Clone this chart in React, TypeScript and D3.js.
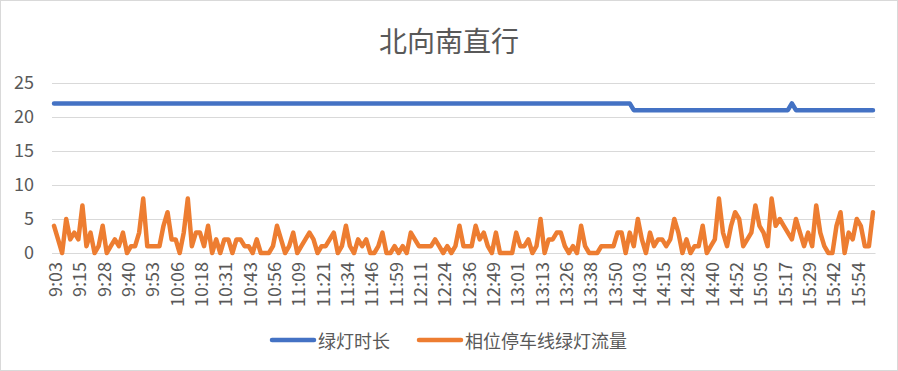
import { useEffect, useRef } from "react";
import * as d3 from "d3";

const title = "北向南直行";
const seriesNames = ["绿灯时长", "相位停车线绿灯流量"];
const seriesColors = ["#4472C4", "#ED7D31"];

const tickLabels = [
  "9:03", "9:15", "9:28", "9:40", "9:53", "10:06", "10:18", "10:31", "10:43",
  "10:56", "11:09", "11:21", "11:34", "11:46", "11:59", "12:11", "12:24",
  "12:36", "12:49", "13:01", "13:13", "13:26", "13:38", "13:50", "14:03",
  "14:15", "14:28", "14:40", "14:52", "15:05", "15:17", "15:29", "15:42",
  "15:54",
];
const labelEvery = 6;

const yTicks = [0, 5, 10, 15, 20, 25];

// 绿灯时长
const greenTime = [
  22, 22, 22, 22, 22, 22, 22, 22, 22, 22, 22, 22, 22, 22, 22, 22, 22, 22, 22, 22,
  22, 22, 22, 22, 22, 22, 22, 22, 22, 22, 22, 22, 22, 22, 22, 22, 22, 22, 22, 22,
  22, 22, 22, 22, 22, 22, 22, 22, 22, 22, 22, 22, 22, 22, 22, 22, 22, 22, 22, 22,
  22, 22, 22, 22, 22, 22, 22, 22, 22, 22, 22, 22, 22, 22, 22, 22, 22, 22, 22, 22,
  22, 22, 22, 22, 22, 22, 22, 22, 22, 22, 22, 22, 22, 22, 22, 22, 22, 22, 22, 22,
  22, 22, 22, 22, 22, 22, 22, 22, 22, 22, 22, 22, 22, 22, 22, 22, 22, 22, 22, 22,
  22, 22, 22, 22, 22, 22, 22, 22, 22, 22, 22, 22, 22, 22, 22, 22, 22, 22, 22, 22,
  22, 22, 22, 21, 21, 21, 21, 21, 21, 21, 21, 21, 21, 21, 21, 21, 21, 21, 21, 21,
  21, 21, 21, 21, 21, 21, 21, 21, 21, 21, 21, 21, 21, 21, 21, 21, 21, 21, 21, 21,
  21, 21, 22, 21, 21, 21, 21, 21, 21, 21, 21, 21, 21, 21, 21, 21, 21, 21, 21, 21,
  21, 21, 21,
];

// 相位停车线绿灯流量
const greenFlow = [
  4, 2, 0, 5, 2, 3, 2, 7, 1, 3,
  0, 1, 4, 0, 1, 2, 1, 3, 0, 1,
  1, 3, 8, 1, 1, 1, 1, 4, 6, 2,
  2, 0, 3, 8, 1, 3, 3, 1, 4, 0,
  2, 0, 2, 2, 0, 2, 2, 1, 1, 0,
  2, 0, 0, 0, 1, 4, 2, 0, 1, 3,
  0, 1, 2, 3, 2, 0, 1, 1, 2, 3,
  0, 1, 4, 1, 0, 2, 1, 2, 0, 0,
  1, 3, 0, 0, 1, 0, 1, 0, 3, 2,
  1, 1, 1, 1, 2, 1, 0, 1, 0, 1,
  4, 1, 1, 1, 4, 2, 3, 1, 0, 3,
  0, 0, 0, 0, 3, 1, 1, 2, 0, 1,
  5, 0, 2, 2, 3, 3, 1, 0, 1, 0,
  4, 1, 0, 0, 0, 1, 1, 1, 1, 3,
  3, 0, 3, 1, 5, 2, 0, 3, 1, 2,
  2, 1, 2, 5, 3, 0, 2, 0, 1, 1,
  4, 0, 1, 2, 8, 3, 1, 4, 6, 5,
  1, 2, 3, 7, 4, 3, 1, 8, 4, 5,
  4, 3, 2, 5, 3, 1, 3, 1, 7, 3,
  1, 0, 0, 4, 6, 0, 3, 2, 5, 4,
  1, 1, 6,
];

const W = 898;
const H = 371;
const font = "'Noto Sans CJK SC', 'Noto Sans', sans-serif";
const textColor = "#595959";
const gridColor = "#d9d9d9";

export default function App() {
  const ref = useRef<SVGSVGElement>(null);

  useEffect(() => {
    const svg = d3.select(ref.current!);
    svg.selectAll("*").remove();

    const plot = { left: 52, right: 875, top: 83, bottom: 253 };
    const idx = d3.range(greenFlow.length);

    const x = d3
      .scaleBand<number>()
      .domain(idx)
      .range([plot.left, plot.right])
      .padding(0);
    const cx = (i: number) => x(i)! + x.bandwidth() / 2;
    const y = d3.scaleLinear().domain([0, 25]).range([plot.bottom, plot.top]);

    // frame
    svg
      .append("rect")
      .attr("x", 0.5)
      .attr("y", 0.5)
      .attr("width", W - 1)
      .attr("height", H - 1)
      .attr("fill", "#fff")
      .attr("stroke", gridColor);

    // title
    svg
      .append("text")
      .attr("x", W / 2)
      .attr("y", 40)
      .attr("text-anchor", "middle")
      .attr("dominant-baseline", "central")
      .attr("font-family", font)
      .attr("font-size", 28)
      .attr("fill", textColor)
      .text(title);

    // grid + y axis
    svg
      .append("g")
      .attr("transform", `translate(${plot.left},0)`)
      .call(
        d3
          .axisLeft(y)
          .tickValues(yTicks)
          .tickSize(-(plot.right - plot.left))
          .tickPadding(18)
      )
      .call((g) => g.select(".domain").remove())
      .call((g) => g.selectAll(".tick line").attr("stroke", gridColor).attr("stroke-width", 1))
      .call((g) =>
        g
          .selectAll(".tick text")
          .attr("font-family", font)
          .attr("font-size", 18)
          .attr("fill", textColor)
      );

    // x axis
    const tickIdx = tickLabels.map((_, k) => k * labelEvery);
    svg
      .append("g")
      .attr("transform", `translate(0,${plot.bottom})`)
      .call(
        d3
          .axisBottom(x)
          .tickValues(tickIdx)
          .tickSize(0)
          .tickFormat((d) => tickLabels[(d as number) / labelEvery])
      )
      .call((g) => g.select(".domain").attr("stroke", gridColor))
      .call((g) =>
        g
          .selectAll(".tick text")
          .attr("font-family", font)
          .attr("font-size", 18)
          .attr("fill", textColor)
          .attr("text-anchor", "end")
          .attr("dominant-baseline", "central")
          .attr("transform", "rotate(-90)")
          .attr("x", -9)
          .attr("y", 0)
          .attr("dy", null)
      );

    // lines
    const series = [greenTime, greenFlow];
    series.forEach((vals, s) => {
      const line = d3
        .line<number>()
        .x((_, i) => cx(i))
        .y((d) => y(d));
      svg
        .append("path")
        .datum(vals)
        .attr("d", line)
        .attr("fill", "none")
        .attr("stroke", seriesColors[s])
        .attr("stroke-width", 4.5)
        .attr("stroke-linejoin", "round")
        .attr("stroke-linecap", "round");
    });

    // legend
    const legendY = 340;
    const legendX = [272, 419];
    seriesNames.forEach((name, s) => {
      const g = svg.append("g").attr("transform", `translate(${legendX[s]},${legendY})`);
      g.append("line")
        .attr("x1", 0)
        .attr("x2", 42)
        .attr("stroke", seriesColors[s])
        .attr("stroke-width", 4.5)
        .attr("stroke-linecap", "round");
      g.append("text")
        .attr("x", 46)
        .attr("dominant-baseline", "central")
        .attr("font-family", font)
        .attr("font-size", 18)
        .attr("fill", textColor)
        .text(name);
    });
  }, []);

  return (
    <svg
      ref={ref}
      width={W}
      height={H}
      style={{ position: "absolute", left: 0, top: 0 }}
    />
  );
}
